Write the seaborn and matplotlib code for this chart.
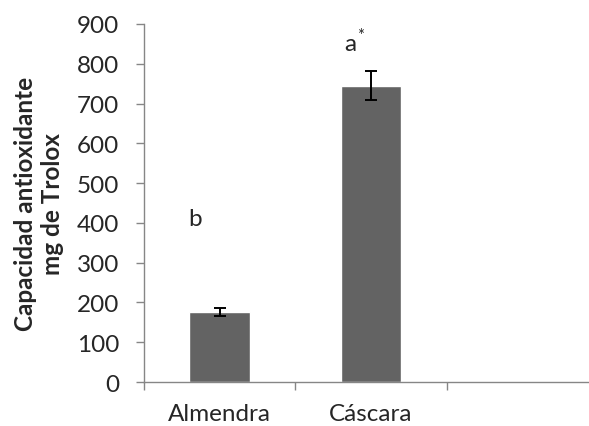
import pandas as pd
import seaborn as sns
import matplotlib.pyplot as plt
from matplotlib.ticker import MultipleLocator, FixedLocator

categorias = ["Almendra", "Cáscara"]
valores = [175, 745]
errores = [10, 37]
letras = ["b", "a"]
letras_y = [410, 850]

df = pd.DataFrame({"muestra": categorias, "valor": valores})

sns.set_style("white")
plt.rcParams["font.family"] = ["Lato", "DejaVu Sans"]

fig = plt.figure(figsize=(5.89, 4.27), dpi=100)
ax = fig.add_axes([0.2445, 0.103, 0.7555, 0.8385])

sns.barplot(data=df, x="muestra", y="valor", color="#636363", width=0.4,
            saturation=1, ax=ax, errorbar=None)
ax.errorbar(categorias, valores, yerr=errores, fmt="none", ecolor="black",
            elinewidth=1.4, capsize=4.3, capthick=1.4)

# letras de significancia
ax.text(-0.16, letras_y[0], letras[0], ha="center", va="center", fontsize=17.5)
ax.text(0.862, letras_y[1], letras[1], ha="center", va="center", fontsize=17.5)
ax.text(0.93, letras_y[1] + 22, "*", ha="center", va="center", fontsize=12)

ax.set_ylim(0, 900)
ax.set_xlim(-0.5, 2.44)
ax.yaxis.set_major_locator(MultipleLocator(100))
ax.xaxis.set_minor_locator(FixedLocator([-0.5, 0.5, 1.5, 2.5]))
ax.tick_params(axis="x", which="major", length=0, pad=15, labelsize=17.5)
ax.tick_params(axis="x", which="minor", length=6, width=1, color="#868686",
               direction="out", bottom=True)
ax.tick_params(axis="y", length=6, width=1, color="#868686", direction="out",
               left=True, pad=12, labelsize=17.5)

for s in ["top", "right"]:
    ax.spines[s].set_visible(False)
for s in ["left", "bottom"]:
    ax.spines[s].set_color("#868686")
    ax.spines[s].set_linewidth(1)

ax.set_xlabel("")
ax.set_ylabel("Capacidad antioxidante\nmg de Trolox", fontsize=17.5,
              fontweight="bold", labelpad=9, linespacing=1.2)

fig.savefig("out.png", dpi=100)
